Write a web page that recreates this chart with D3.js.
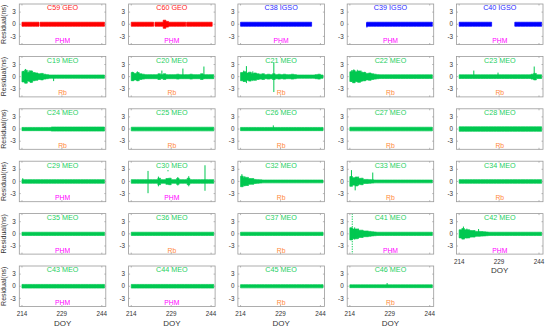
<!DOCTYPE html>
<html><head><meta charset="utf-8">
<script src="https://cdn.jsdelivr.net/npm/d3@7"></script>
<style>body{margin:0;background:#fff}svg{display:block;font-family:"Liberation Sans",Arial,Helvetica,sans-serif}</style>
</head><body><svg id="c" width="550" height="329"></svg>
<script>
// ---------------- DATA ----------------
const sats   = ["C59","C60","C38","C39","C40","C19","C20","C21","C22","C23","C24","C25","C26","C27","C28","C29","C30","C32","C33","C34","C35","C36","C37","C41","C42","C43","C44","C45","C46"];
const orbits = ["GEO","GEO","IGSO","IGSO","IGSO","MEO","MEO","MEO","MEO","MEO","MEO","MEO","MEO","MEO","MEO","MEO","MEO","MEO","MEO","MEO","MEO","MEO","MEO","MEO","MEO","MEO","MEO","MEO","MEO"];
const clocks = ["PHM","PHM","PHM","PHM","PHM","Rb","Rb","Rb","Rb","Rb","Rb","Rb","Rb","Rb","Rb","PHM","PHM","Rb","Rb","Rb","PHM","Rb","Rb","PHM","PHM","PHM","PHM","Rb","Rb"];
const xTicks = [214, 229, 244];
const yTicks = [-3, 0, 3];
// daily half-width of residual band (ns), DOY 214..244 ; null = no data
const ampC59 = [0.5,0.5,0.5,0.5,0.5,0.5,0.5,0.5,0.5,0.5,0.5,0.5,0.5,0.5,0.5,0.5,0.5,0.5,0.5,0.5,0.5,0.5,0.5,0.5,0.5,0.5,0.5,0.5,0.5,0.5,0.5];
const ampC60 = [0.5,0.5,0.5,0.5,0.5,0.5,0.5,0.5,0.5,0.5,0.5,0.5,1.0,0.7,0.5,0.5,0.5,0.5,0.5,0.5,0.5,0.5,0.5,0.5,0.5,0.5,0.5,0.5,0.5,0.5,0.5];
const ampC38 = [0.5,0.5,0.5,0.5,0.5,0.5,0.5,0.5,0.5,0.5,0.5,0.5,0.5,0.5,0.5,0.5,0.5,0.5,0.5,0.5,0.5,0.5,0.5,0.5,0.5,0.5,0.5,null,null,null,null];
const ampC39 = [null,null,null,null,null,null,0.5,0.5,0.5,0.5,0.5,0.5,0.5,0.5,0.5,0.5,0.5,0.5,0.5,0.5,0.5,0.5,0.5,0.5,0.5,0.5,0.5,0.5,0.5,0.5,0.5];
const ampC40 = [0.5,0.5,0.5,0.5,0.5,0.5,0.5,0.5,0.5,0.5,0.5,0.5,0.5,null,null,null,null,null,null,null,0.5,0.5,0.5,0.5,0.5,0.5,0.5,0.5,0.5,0.5,0.5];
const ampC19 = [1.3,1.6,1.1,1.4,1.0,0.9,0.7,0.8,0.6,0.5,0.4,0.4,0.4,0.4,0.4,0.4,0.4,0.4,0.4,0.4,0.4,0.4,0.4,0.4,0.4,0.4,0.4,0.4,0.4,0.4,0.4];
const ampC20 = [1.0,0.8,1.0,0.7,0.6,0.5,0.5,0.5,0.5,0.5,0.7,0.5,0.7,0.5,0.5,0.5,0.5,0.6,0.5,0.5,0.5,0.5,0.6,0.5,0.5,0.5,0.7,0.5,0.5,0.5,0.5];
const ampC21 = [1.0,1.2,0.9,1.1,0.8,0.9,0.7,0.6,0.7,0.5,0.6,0.5,0.7,0.5,0.6,0.5,0.6,0.5,0.5,0.6,0.5,0.4,0.4,0.4,0.4,0.4,0.4,0.4,0.5,0.6,0.4];
const ampC22 = [1.2,1.5,1.2,1.4,1.1,1.0,0.8,0.9,0.7,0.6,0.5,0.45,0.45,0.45,0.45,0.45,0.45,0.45,0.45,0.45,0.45,0.45,0.45,0.45,0.45,0.45,0.45,0.45,0.45,0.45,0.45];
const ampC23 = [0.45,0.45,0.45,0.45,0.45,0.45,0.45,0.45,0.45,0.45,0.45,0.45,0.45,0.45,0.45,0.45,0.45,0.45,0.45,0.45,0.45,0.45,0.45,0.45,0.45,0.45,0.45,0.6,0.8,0.45,0.45];
const ampC24 = [0.4,0.4,0.4,0.4,0.4,0.4,0.4,0.4,0.4,0.4,0.4,0.5,0.5,0.5,0.5,0.5,0.5,0.5,0.5,0.5,0.5,0.5,0.5,0.5,0.5,0.5,0.5,0.5,0.5,0.5,0.5];
const ampC25 = [0.45,0.45,0.45,0.45,0.45,0.45,0.45,0.45,0.45,0.45,0.45,0.45,0.45,0.45,0.45,0.45,0.45,0.45,0.45,0.45,0.45,0.45,0.45,0.45,0.45,0.45,0.45,0.45,0.45,0.45,0.45];
const ampC26 = [0.4,0.4,0.4,0.4,0.4,0.4,0.4,0.4,0.4,0.4,0.4,0.4,0.4,0.4,0.4,0.4,0.4,0.4,0.4,0.4,0.4,0.4,0.4,0.4,0.4,0.4,0.4,0.4,0.4,0.4,0.4];
const ampC27 = [0.45,0.45,0.45,0.45,0.45,0.45,0.45,0.45,0.45,0.45,0.45,0.45,0.45,0.45,0.45,0.45,0.45,0.45,0.45,0.45,0.45,0.45,0.45,0.45,0.45,0.45,0.45,0.45,0.45,0.45,0.45];
const ampC28 = [0.55,0.55,0.55,0.55,0.55,0.55,0.55,0.55,0.55,0.55,0.55,0.55,0.55,0.55,0.55,0.55,0.55,0.55,0.55,0.55,0.55,0.55,0.55,0.55,0.55,0.55,0.55,0.55,0.55,0.55,0.55];
const ampC29 = [0.45,0.45,0.45,0.45,0.45,0.45,0.45,0.45,0.45,0.45,0.45,0.45,0.45,0.45,0.45,0.45,0.45,0.45,0.45,0.45,0.45,0.45,0.45,0.45,0.45,0.45,0.45,0.45,0.45,0.45,0.45];
const ampC30 = [0.45,0.45,0.45,0.45,0.45,0.45,0.45,0.45,0.45,0.45,0.8,0.45,0.45,0.7,0.8,0.45,0.45,0.7,0.45,0.45,0.45,0.8,0.45,0.45,0.45,0.45,0.45,0.45,0.45,0.45,0.45];
const ampC32 = [1.3,1.0,1.0,0.7,0.7,0.5,0.45,0.4,0.35,0.35,0.35,0.35,0.35,0.35,0.35,0.35,0.35,0.35,0.35,0.35,0.35,0.35,0.35,0.35,0.35,0.35,0.35,0.35,0.35,0.35,0.35];
const ampC33 = [1.2,0.9,1.1,0.7,0.8,0.5,0.5,0.45,0.4,0.35,0.35,0.35,0.35,0.35,0.35,0.35,0.35,0.35,0.35,0.35,0.35,0.35,0.35,0.35,0.35,0.35,0.35,0.35,0.35,0.35,0.35];
const ampC34 = [0.45,0.45,0.45,0.45,0.45,0.45,0.45,0.45,0.45,0.45,0.45,0.45,0.45,0.45,0.45,0.45,0.45,0.45,0.45,0.45,0.45,0.45,0.45,0.45,0.45,0.45,0.45,0.45,0.45,0.45,0.45];
const ampC35 = [0.4,0.4,0.4,0.4,0.4,0.4,0.4,0.4,0.4,0.4,0.4,0.4,0.4,0.4,0.4,0.4,0.4,0.4,0.4,0.4,0.4,0.4,0.4,0.4,0.4,0.4,0.4,0.4,0.4,0.4,0.4];
const ampC36 = [0.4,0.4,0.4,0.4,0.4,0.4,0.4,0.4,0.4,0.4,0.4,0.4,0.4,0.4,0.4,0.4,0.4,0.4,0.4,0.4,0.4,0.4,0.4,0.4,0.4,0.4,0.4,0.4,0.4,0.4,0.4];
const ampC37 = [0.4,0.4,0.4,0.4,0.4,0.4,0.4,0.4,0.4,0.4,0.4,0.4,0.4,0.4,0.4,0.4,0.4,0.4,0.4,0.4,0.4,0.4,0.4,0.4,0.4,0.4,0.4,0.4,0.4,0.4,0.4];
const ampC41 = [1.5,1.2,1.2,0.9,0.9,0.7,0.7,0.6,0.5,0.45,0.4,0.4,0.4,0.4,0.4,0.4,0.4,0.4,0.4,0.4,0.4,0.4,0.4,0.4,0.4,0.4,0.4,0.4,0.4,0.4,0.4];
const ampC42 = [1.0,1.3,1.0,1.0,0.8,0.8,0.6,0.6,0.55,0.5,0.45,0.4,0.4,0.4,0.4,0.4,0.4,0.4,0.4,0.4,0.4,0.4,0.4,0.4,0.4,0.4,0.4,0.4,0.4,0.4,0.4];
const ampC43 = [0.45,0.45,0.45,0.45,0.45,0.45,0.45,0.45,0.45,0.45,0.45,0.45,0.45,0.45,0.45,0.45,0.45,0.45,0.45,0.45,0.45,0.45,0.45,0.45,0.45,0.45,0.45,0.45,0.45,0.45,0.45];
const ampC44 = [0.45,0.45,0.45,0.45,0.45,0.45,0.45,0.45,0.45,0.45,0.45,0.45,0.45,0.45,0.45,0.45,0.45,0.45,0.45,0.45,0.45,0.45,0.45,0.45,0.45,0.45,0.45,0.45,0.45,0.45,0.45];
const ampC45 = [0.4,0.4,0.4,0.4,0.4,0.4,0.4,0.4,0.4,0.4,0.4,0.4,0.4,0.4,0.4,0.4,0.4,0.4,0.4,0.4,0.4,0.4,0.4,0.4,0.4,0.4,0.4,0.4,0.4,0.4,0.4];
const ampC46 = [0.35,0.35,0.35,0.35,0.35,0.35,0.35,0.35,0.35,0.35,0.35,0.35,0.35,0.35,0.35,0.35,0.35,0.35,0.35,0.35,0.35,0.35,0.35,0.35,0.35,0.35,0.35,0.35,0.35,0.35,0.35];
// partial-day data gaps [startDOY, endDOY]
const gapsC59 = [[220.4, 220.8]];
const gapsC60 = [[222.4, 222.9], [234.5, 234.8], [244.4, 245]];
const gapsC38 = [[240.7, 241]];
const gapsC39 = [[220, 220.3]];
const gapsC40 = [[226.2, 227], [234, 234.9]];
// isolated outliers [DOY, high, low] (ns)
const spikesC19 = [[214.6, 1.4, -1.2], [215.3, 1.9, -1.6], [216.7, 1.6, -1.3], [217.4, 1.5, -1.5], [225.9, 0, -1.1]];
const spikesC20 = [[214.4, 1.2, -1.0], [216.3, 1.3, -1.1], [225.5, 1.5, -0.3], [233.4, 2.0, 0], [241.3, 2.5, -0.5]];
const spikesC21 = [[215.2, 1.5, -1.2], [216.2, 2.6, -1.6], [218.6, 1.3, -1.1], [226.5, 3.5, -3.8]];
const spikesC22 = [[214.7, 1.6, -1.3], [215.5, 1.8, -1.5], [216.8, 1.7, -1.4], [218.2, 1.5, -1.3], [219.6, 1.2, -1.1]];
const spikesC23 = [[219.5, 1.5, 0], [228.6, 1.0, 0], [242.2, 2.5, -0.8]];
const spikesC26 = [[226.3, 0.9, 0]];
const spikesC29 = [[214.3, 0.8, 0]];
const spikesC30 = [[220.3, 2.6, -2.9], [224.2, 1.2, -1.2], [227.8, 2.8, 2.5], [231.5, 1.1, -1.0], [235.6, 1.3, -1.2], [241.7, 4.0, -2.3]];
const spikesC32 = [[214.5, 1.8, -1.0], [215.6, 1.3, -1.2]];
const spikesC33 = [[214.6, 2.8, -0.5], [216.0, 0.5, -2.2], [217.3, 1.2, -1.0], [222.6, 2.2, 0]];
const spikesC39 = [[220.4, 0.3, -0.8]];
const spikesC41 = [[214.9, 5, -5], [215.8, 1.6, -1.4], [217.2, 1.3, -1.2]];
const spikesC42 = [[215.6, 1.8, -1.2], [216.9, 1.3, -1.1], [221.3, 1.2, 0]];
const spikesC46 = [[228.0, 0.8, 0]];

// tables built from the arrays above
const ampTable = [ampC59,ampC60,ampC38,ampC39,ampC40,ampC19,ampC20,ampC21,ampC22,ampC23,ampC24,ampC25,ampC26,ampC27,ampC28,ampC29,ampC30,ampC32,ampC33,ampC34,ampC35,ampC36,ampC37,ampC41,ampC42,ampC43,ampC44,ampC45,ampC46];
const gapTable = {C59:gapsC59, C60:gapsC60, C38:gapsC38, C39:gapsC39, C40:gapsC40};
const spikeTable = {C19:spikesC19, C20:spikesC20, C21:spikesC21, C22:spikesC22, C23:spikesC23, C26:spikesC26, C29:spikesC29, C30:spikesC30, C32:spikesC32, C33:spikesC33, C39:spikesC39, C41:spikesC41, C42:spikesC42, C46:spikesC46};

// ---------------- STYLE / LAYOUT ----------------
const orbitColor = {GEO:"#ff0000", IGSO:"#0000ff", MEO:"#00c850"};
const orbitText  = {GEO:"#ff1a1a", IGSO:"#2a2aff", MEO:"#1ecf62"};
const clockColor = {PHM:"#ff00ff", Rb:"#ff8a3d"};
const colX0 = 19.3, colStep = 109.3, pw = 86.5;
const rowY0 = 4, rowStep = 52.4, ph = 40.5;
const nCols = 5, nRows = 6;

const svg = d3.select("#c");
const x = d3.scaleLinear().domain([213, 245.5]).range([0, pw]);
const y = d3.scaleLinear().domain([-5, 5]).range([ph, 0]);

const area = d3.area().defined(d => d.ok).x(d => x(d.x)).y0(d => y(-d.a)).y1(d => y(d.a));

sats.forEach((s, i) => {
  const col = i % nCols, row = Math.floor(i / nCols);
  const g = svg.append("g").attr("transform", `translate(${colX0 + col*colStep},${rowY0 + row*rowStep})`);
  const isBottom = (row === nRows - 1) || (i + nCols >= sats.length);
  const col_ = orbitColor[orbits[i]];

  const cid = "clip" + i;
  g.append("clipPath").attr("id", cid).append("rect").attr("width", pw).attr("height", ph);

  const amps = ampTable[i], gaps = gapTable[s] || [];
  const pts = [];
  amps.forEach((a, k) => {
    const d0 = 214 + k, d1 = 215 + k;
    if (a === null) { pts.push({ok:false}); return; }
    let pieces = [[d0, d1]];
    gaps.forEach(([gs, ge]) => {
      const np = [];
      pieces.forEach(([ps, pe]) => {
        if (ge <= ps || gs >= pe) { np.push([ps, pe]); return; }
        if (gs > ps) np.push([ps, gs]);
        if (ge < pe) np.push([ge, pe]);
      });
      pieces = np;
    });
    pieces.forEach(([ps, pe], j) => {
      if (j > 0 || (pts.length && pts[pts.length-1].ok && pts[pts.length-1].x !== ps)) pts.push({ok:false});
      pts.push({ok:true, x:ps, a:a});
      pts.push({ok:true, x:pe, a:a});
    });
  });

  // labels under data
  g.append("text").attr("x", pw/2).attr("y", 6.3).attr("text-anchor", "middle")
    .attr("font-size", 7.2).attr("fill", orbitText[orbits[i]]).text(`${s} ${orbits[i]}`);
  g.append("text").attr("x", pw/2).attr("y", ph - 1.4).attr("text-anchor", "middle")
    .attr("font-size", 6.8).attr("fill", clockColor[clocks[i]]).text(clocks[i]);

  const plot = g.append("g").attr("clip-path", `url(#${cid})`);
  plot.append("path").datum(pts).attr("d", area)
    .attr("fill", col_).attr("stroke", col_).attr("stroke-width", 0.7).attr("stroke-linejoin", "round");
  (spikeTable[s] || []).forEach(([dx, hi, lo]) => {
    plot.append("line").attr("x1", x(dx)).attr("x2", x(dx)).attr("y1", y(hi)).attr("y2", y(lo))
      .attr("stroke", col_).attr("stroke-width", 1.0)
      .attr("stroke-dasharray", s === "C41" && hi >= 5 ? "1.2,1.3" : null);
  });

  g.append("rect").attr("width", pw).attr("height", ph).attr("fill", "none")
    .attr("stroke", "#9a9a9a").attr("stroke-width", 0.8);

  xTicks.forEach(t => {
    g.append("line").attr("x1", x(t)).attr("x2", x(t)).attr("y1", ph).attr("y2", ph - 1.5).attr("stroke", "#9a9a9a").attr("stroke-width", 0.7);
    g.append("line").attr("x1", x(t)).attr("x2", x(t)).attr("y1", 0).attr("y2", 1.5).attr("stroke", "#9a9a9a").attr("stroke-width", 0.7);
  });
  yTicks.forEach(t => {
    g.append("line").attr("x1", 0).attr("x2", 1.5).attr("y1", y(t)).attr("y2", y(t)).attr("stroke", "#9a9a9a").attr("stroke-width", 0.7);
    g.append("line").attr("x1", pw).attr("x2", pw - 1.5).attr("y1", y(t)).attr("y2", y(t)).attr("stroke", "#9a9a9a").attr("stroke-width", 0.7);
  });

  yTicks.forEach(t => {
    g.append("text").attr("x", -3.5).attr("y", y(t)).attr("dy", "0.35em")
      .attr("text-anchor", "end").attr("font-size", 6.3).attr("fill", "#333")
      .text(String(t));
  });
  if (col === 0) {
    g.append("text").attr("transform", `translate(${-13.6},${ph/2}) rotate(-90)`)
      .attr("text-anchor", "middle").attr("font-size", 7).attr("fill", "#333")
      .text("Residual(ns)");
  }
  if (isBottom) {
    xTicks.forEach(t => {
      g.append("text").attr("x", x(t)).attr("y", ph + 9.5).attr("text-anchor", "middle")
        .attr("font-size", 6.3).attr("fill", "#333").text(String(t));
    });
    g.append("text").attr("x", pw/2).attr("y", ph + 19).attr("text-anchor", "middle")
      .attr("font-size", 8).attr("fill", "#333").text("DOY");
  }
});
</script></body></html>
